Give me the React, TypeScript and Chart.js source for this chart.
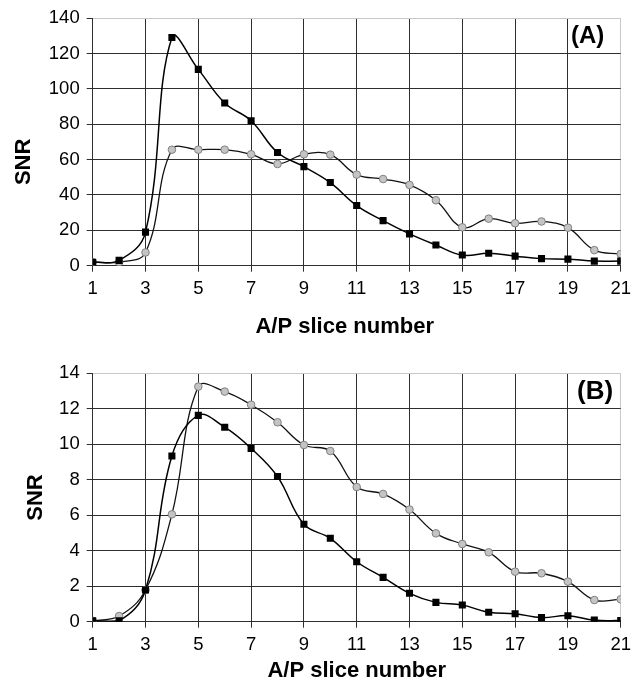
import { useEffect, useRef } from "react";
import { Chart, registerables } from "chart.js";

Chart.register(...registerables);

// ---------- data ----------
const slices = [1, 2, 3, 4, 5, 6, 7, 8, 9, 10, 11, 12, 13, 14, 15, 16, 17, 18, 19, 20, 21];

const snrA_black = [2, 3, 19, 129, 111, 92, 82, 64, 56, 47, 34, 25.5, 18, 11.7, 6, 7, 5.4, 4, 3.7, 2.6, 2.6];
const snrA_gray = [2, 2, 7.5, 65.6, 65.6, 65.6, 63, 57.5, 63, 62.8, 51.5, 49, 45.7, 37, 21.7, 26.6, 24, 25, 21.5, 8.8, 6.6];

const snrB_black = [0.05, 0.05, 1.79, 9.34, 11.63, 10.96, 9.77, 8.18, 5.49, 4.7, 3.38, 2.5, 1.6, 1.09, 0.94, 0.53, 0.45, 0.23, 0.34, 0.09, 0.06];
const snrB_gray = [0.05, 0.32, 1.79, 6.05, 13.25, 12.97, 12.23, 11.24, 9.96, 9.62, 7.59, 7.2, 6.32, 4.98, 4.38, 3.91, 2.82, 2.73, 2.26, 1.22, 1.26];

const xTitle = "A/P slice number";
const yTitle = "SNR";
const labelA = "(A)";
const labelB = "(B)";

const FONT = '"Liberation Sans", Arial, Helvetica, sans-serif';

type PanelCfg = {
  black: number[];
  gray: number[];
  yMax: number;
  yStep: number;
  width: number;
  height: number;
  plotTop: number;
  plotBottom: number;
  plotLeft: number;
  plotRight: number;
  label: string;
  labelSize: number;
  labelRightInset: number;
  labelBaseline: number;
  xTitleBaseline: number;
  xTitleShift: number;
  yTitleX: number;
  yTitleShift: number;
};

const annotatePlugin = {
  id: "annotate",
  afterDraw(chart: any, _args: any, opts: any) {
    const { ctx, chartArea } = chart;
    ctx.save();
    ctx.fillStyle = "#000";
    // x title
    ctx.font = `bold 22px ${FONT}`;
    ctx.textAlign = "center";
    ctx.textBaseline = "alphabetic";
    ctx.fillText(opts.xTitle, (chartArea.left + chartArea.right) / 2 + opts.xTitleShift, chartArea.bottom + opts.xTitleBaseline);
    // y title
    ctx.save();
    ctx.translate(opts.yTitleX, (chartArea.top + chartArea.bottom) / 2 + opts.yTitleShift);
    ctx.rotate(-Math.PI / 2);
    ctx.textAlign = "center";
    ctx.textBaseline = "middle";
    ctx.fillText(opts.yTitle, 0, 0);
    ctx.restore();
    // panel label
    ctx.font = `bold ${opts.labelSize}px ${FONT}`;
    ctx.textAlign = "right";
    ctx.textBaseline = "alphabetic";
    ctx.fillText(opts.label, chartArea.right - opts.labelRightInset, chartArea.top + opts.labelBaseline);
    ctx.restore();
  },
};

function Panel({ cfg }: { cfg: PanelCfg }) {
  const ref = useRef<HTMLCanvasElement | null>(null);
  useEffect(() => {
    if (!ref.current) return;
    const toPts = (arr: number[]) => slices.map((x, i) => ({ x, y: arr[i] }));
    const dark = "#2e2e2e";
    const light = "#c8c8c8";
    const chart = new Chart(ref.current, {
      type: "line",
      data: {
        datasets: [
          {
            data: toPts(cfg.black),
            borderColor: "#000",
            borderWidth: 1.5,
            pointStyle: "rect",
            pointRadius: 5,
            pointBackgroundColor: "#000",
            pointBorderColor: "#000",
            pointBorderWidth: 0,
            tension: 0.4,
          },
          {
            data: toPts(cfg.gray),
            borderColor: "#111",
            borderWidth: 1.3,
            pointStyle: "circle",
            pointRadius: 3.8,
            pointBackgroundColor: "#c4c4c4",
            pointBorderColor: "#808080",
            pointBorderWidth: 1,
            tension: 0.4,
          },
        ],
      },
      options: {
        responsive: false,
        animation: false,
        devicePixelRatio: 1,
        layout: {
          padding: { top: cfg.plotTop, left: 0, right: cfg.width - cfg.plotRight, bottom: 0 },
        },
        plugins: {
          legend: { display: false },
          tooltip: { enabled: false },
          annotate: {
            xTitle,
            yTitle,
            label: cfg.label,
            labelSize: cfg.labelSize,
            labelRightInset: cfg.labelRightInset,
            labelBaseline: cfg.labelBaseline,
            xTitleBaseline: cfg.xTitleBaseline,
            xTitleShift: cfg.xTitleShift,
            yTitleX: cfg.yTitleX,
            yTitleShift: cfg.yTitleShift,
          },
        } as any,
        scales: {
          x: {
            type: "linear",
            min: 1,
            max: 21,
            afterFit: (s: any) => {
              s.height = cfg.height - cfg.plotBottom;
            },
            ticks: {
              stepSize: 2,
              color: "#000",
              padding: 6,
              maxRotation: 0,
              font: { family: FONT, size: 18.5 },
            },
            grid: {
              color: (c: any) => (c.tick && c.tick.value === 21 ? light : dark),
              tickColor: dark,
              tickLength: 6,
              lineWidth: 1,
            },
            border: { color: dark, width: 1 },
          },
          y: {
            min: 0,
            max: cfg.yMax,
            afterFit: (s: any) => {
              s.width = cfg.plotLeft;
            },
            ticks: {
              stepSize: cfg.yStep,
              color: "#000",
              padding: 7,
              font: { family: FONT, size: 18.5 },
            },
            grid: {
              color: (c: any) => (c.tick && c.tick.value === cfg.yMax ? light : dark),
              tickColor: dark,
              tickLength: 6,
              lineWidth: 1,
            },
            border: { color: dark, width: 1 },
          },
        },
      },
      plugins: [annotatePlugin],
    });
    return () => chart.destroy();
  }, [cfg]);
  return <canvas ref={ref} width={cfg.width} height={cfg.height} style={{ display: "block", width: cfg.width, height: cfg.height }} />;
}

const cfgA: PanelCfg = {
  black: snrA_black,
  gray: snrA_gray,
  yMax: 140,
  yStep: 20,
  width: 637,
  height: 340,
  plotTop: 17,
  plotBottom: 265.7,
  plotLeft: 92.7,
  plotRight: 624,
  label: labelA,
  labelSize: 24,
  labelRightInset: 16.5,
  labelBaseline: 25,
  xTitleBaseline: 67.3,
  xTitleShift: -12,
  yTitleX: 24,
  yTitleShift: 20,
};

const cfgB: PanelCfg = {
  black: snrB_black,
  gray: snrB_gray,
  yMax: 14,
  yStep: 2,
  width: 637,
  height: 341,
  plotTop: 33.3,
  plotBottom: 281.7,
  plotLeft: 92.7,
  plotRight: 624,
  label: labelB,
  labelSize: 26,
  labelRightInset: 7.5,
  labelBaseline: 26,
  xTitleBaseline: 55.3,
  xTitleShift: 0,
  yTitleX: 36,
  yTitleShift: 0,
};

export default function App() {
  return (
    <div style={{ position: "absolute", left: 0, top: 0, width: 637, height: 681, background: "#fff" }}>
      <div style={{ position: "absolute", left: 0, top: 0 }}>
        <Panel cfg={cfgA} />
      </div>
      <div style={{ position: "absolute", left: 0, top: 340 }}>
        <Panel cfg={cfgB} />
      </div>
    </div>
  );
}
